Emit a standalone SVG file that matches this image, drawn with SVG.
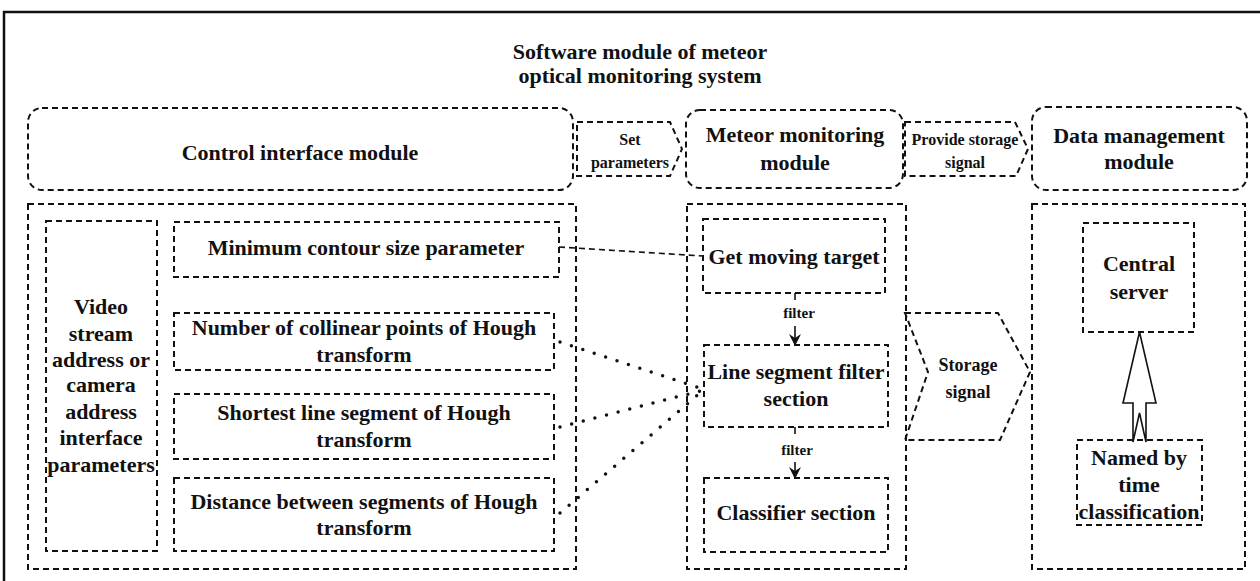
<svg xmlns="http://www.w3.org/2000/svg" width="1260" height="581" viewBox="0 0 1260 581">
  <style>
    text { font-family: "Liberation Serif", "Times New Roman", serif; font-weight: bold; fill: #111; text-anchor: middle; }
    .t22 { font-size: 22px; }
    .t18 { font-size: 18px; }
    .t16 { font-size: 16px; }
    .t15 { font-size: 15px; }
    .box { fill: none; stroke: #111; stroke-width: 2; stroke-dasharray: 6 4; }
    .link { fill: none; stroke: #111; stroke-width: 1.6; stroke-dasharray: 6 4; }
    .dots { fill: none; stroke: #111; stroke-width: 3.5; stroke-linecap: round; stroke-dasharray: 0 12; }
    .flow { fill: none; stroke: #111; stroke-width: 1.6; }
  </style>
  <defs>
    <marker id="head" viewBox="0 0 12 12" refX="11" refY="6" markerWidth="12" markerHeight="12" markerUnits="userSpaceOnUse" orient="auto">
      <path d="M0,0 L12,6 L0,12 L4,6 Z" fill="#111"/>
    </marker>
  </defs>

  <rect width="1260" height="581" fill="#fff"/>
  <!-- outer frame -->
  <rect x="4" y="12" width="1280" height="620" fill="none" stroke="#111" stroke-width="2.5"/>

  <g id="title">
    <text class="t22" x="640" y="59">Software module of meteor</text>
    <text class="t22" x="640" y="83">optical monitoring system</text>
  </g>

  <!-- top row modules -->
  <g id="control-interface-module">
    <rect class="box" x="28" y="108" width="545" height="82" rx="14"/>
    <text class="t22" x="300" y="160">Control interface module</text>
  </g>
  <g id="set-parameters">
    <path class="box" d="M577,122 H670 L682,149 L670,176 H577 Z"/>
    <text class="t16" x="630" y="145">Set</text>
    <text class="t16" x="630" y="168">parameters</text>
  </g>
  <g id="meteor-monitoring-module">
    <rect class="box" x="686" y="110" width="217" height="78" rx="14"/>
    <text class="t22" x="795" y="142">Meteor monitoring</text>
    <text class="t22" x="795" y="170">module</text>
  </g>
  <g id="provide-storage-signal">
    <path class="box" d="M905,122 H1015 L1028,149 L1016,176 H905 Z"/>
    <text class="t16" x="965" y="145">Provide storage</text>
    <text class="t16" x="965" y="168">signal</text>
  </g>
  <g id="data-management-module">
    <rect class="box" x="1032" y="107" width="215" height="83" rx="14"/>
    <text class="t22" x="1139" y="143">Data management</text>
    <text class="t22" x="1139" y="169">module</text>
  </g>

  <!-- control interface panel -->
  <g id="control-panel">
    <rect class="box" x="28" y="204" width="548" height="365"/>
  </g>
  <g id="video-stream">
    <rect class="box" x="46" y="221" width="111" height="330"/>
    <text class="t22" x="101" y="314">Video</text>
    <text class="t22" x="101" y="341">stream</text>
    <text class="t22" x="101" y="367">address or</text>
    <text class="t22" x="101" y="392">camera</text>
    <text class="t22" x="101" y="419">address</text>
    <text class="t22" x="101" y="445">interface</text>
    <text class="t22" x="101" y="472">parameters</text>
  </g>
  <g id="min-contour">
    <rect class="box" x="174" y="222" width="385" height="55"/>
    <text class="t22" x="366" y="255">Minimum contour size parameter</text>
  </g>
  <g id="collinear-points">
    <rect class="box" x="174" y="313" width="380" height="57"/>
    <text class="t22" x="364" y="335">Number of collinear points of Hough</text>
    <text class="t22" x="364" y="362">transform</text>
  </g>
  <g id="shortest-segment">
    <rect class="box" x="174" y="394" width="380" height="65"/>
    <text class="t22" x="364" y="420">Shortest line segment of Hough</text>
    <text class="t22" x="364" y="447">transform</text>
  </g>
  <g id="segment-distance">
    <rect class="box" x="174" y="478" width="380" height="73"/>
    <text class="t22" x="364" y="509">Distance between segments of Hough</text>
    <text class="t22" x="364" y="535">transform</text>
  </g>

  <!-- meteor monitoring panel -->
  <g id="monitoring-panel">
    <rect class="box" x="687" y="204" width="219" height="365"/>
  </g>
  <g id="get-moving-target">
    <rect class="box" x="703" y="219" width="182" height="74"/>
    <text class="t22" x="794" y="264">Get moving target</text>
  </g>
  <g id="line-segment-filter">
    <rect class="box" x="704" y="345" width="184" height="82"/>
    <text class="t22" x="796" y="379">Line segment filter</text>
    <text class="t22" x="796" y="406">section</text>
  </g>
  <g id="classifier">
    <rect class="box" x="704" y="478" width="184" height="74"/>
    <text class="t22" x="796" y="520">Classifier section</text>
  </g>
  <g id="storage-signal">
    <path class="box" d="M905,313 H998 L1030,372 L1000,440 H905 L928,372 Z"/>
    <text class="t18" x="968" y="371">Storage</text>
    <text class="t18" x="968" y="398">signal</text>
  </g>

  <!-- data management panel -->
  <g id="data-panel">
    <rect class="box" x="1032" y="204" width="213" height="365"/>
  </g>
  <g id="central-server">
    <rect class="box" x="1083" y="223" width="111" height="109"/>
    <text class="t22" x="1139" y="271">Central</text>
    <text class="t22" x="1139" y="299">server</text>
  </g>
  <g id="named-by-time">
    <rect class="box" x="1077" y="440" width="125" height="85"/>
    <text class="t22" x="1139" y="465">Named by</text>
    <text class="t22" x="1139" y="492">time</text>
    <text class="t22" x="1139" y="519">classification</text>
  </g>

  <!-- connectors -->
  <g id="connectors">
    <line class="link" x1="559" y1="247" x2="703" y2="256"/>
    <line class="dots" x1="560" y1="342" x2="703" y2="389"/>
    <line class="dots" x1="560" y1="427" x2="700" y2="391"/>
    <line class="dots" x1="560" y1="513" x2="700" y2="393"/>
    <line class="flow" x1="795" y1="293" x2="795" y2="300"/>
    <text class="t15" x="799" y="318">filter</text>
    <line class="flow" x1="795" y1="326" x2="795" y2="345" marker-end="url(#head)"/>
    <line class="flow" x1="795" y1="427" x2="795" y2="434"/>
    <text class="t15" x="797" y="455">filter</text>
    <line class="flow" x1="795" y1="462" x2="795" y2="478" marker-end="url(#head)"/>
    <path d="M1139.5,332 L1156,403 L1146,403 L1146,442 L1139.5,413 L1133,442 L1133,403 L1123,403 Z" fill="#fff" stroke="#111" stroke-width="1.6" stroke-linejoin="miter"/>
  </g>
</svg>
